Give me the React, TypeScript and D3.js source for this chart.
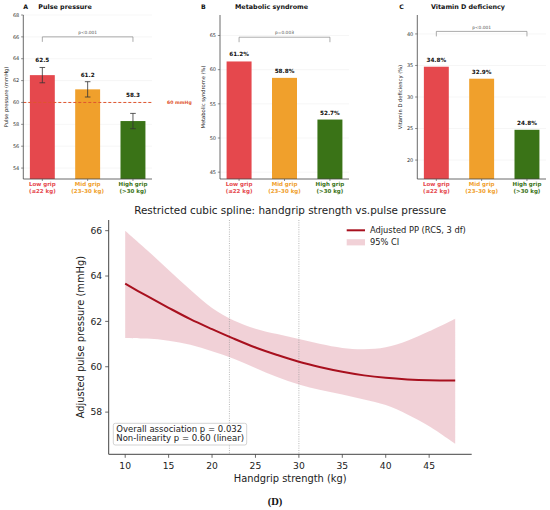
import React from "react";
import * as d3 from "d3";

// ---------- data ----------
const groupNames = ["Low grip", "Mid grip", "High grip"];
const groupRanges = ["(≤22 kg)", "(23–30 kg)", "(>30 kg)"];
const pulsePressure = [62.5, 61.2, 58.3];
const pulsePressureErr = [0.7, 0.7, 0.7];
const metabolicSyndrome = [61.2, 58.8, 52.7];
const vitaminDDeficiency = [34.8, 32.9, 24.8];
const pulseTicks = [54, 56, 58, 60, 62, 64, 66, 68];
const metTicks = [45, 50, 55, 60, 65];
const vitTicks = [20, 25, 30, 35, 40];
const pLabels = ["p<0.001", "p=0.003", "p<0.001"];
const bracketLevels = [66, 64.75, 40.4];
const ppReference = 60;

const gripStrength = [10, 12.5, 15, 17.5, 20, 22.5, 25, 27.5, 30, 32.5, 35, 37.5, 40, 42.5, 45, 48];
const ppAdjusted = [63.66, 63.12, 62.6, 62.1, 61.66, 61.24, 60.85, 60.52, 60.22, 59.98, 59.78, 59.62, 59.51, 59.44, 59.4, 59.39];
const ciUpper = [66.0, 65.15, 64.27, 63.39, 62.59, 62.04, 61.68, 61.44, 61.22, 61.0, 60.83, 60.77, 60.86, 61.15, 61.56, 62.12];
const ciLower = [61.27, 61.24, 61.15, 60.97, 60.68, 60.35, 59.95, 59.55, 59.22, 58.97, 58.78, 58.56, 58.31, 57.9, 57.38, 56.61];
const knots = [22, 30];
const splineXTicks = [10, 15, 20, 25, 30, 35, 40, 45];
const splineYTicks = [58, 60, 62, 64, 66];

// ---------- style ----------
const FONT = "DejaVu Sans, Liberation Sans, sans-serif";
const barColors = ["#e5484d", "#f0a02c", "#3a7317"];
const refColor = "#e0552e";
const lineColor = "#a8101e";
const spineColor = "#444";

type PanelProps = {
  left: number;
  right: number;
  domain: [number, number];
  ticks: number[];
  values: number[];
  errors?: number[];
  fmt: (v: number) => string;
  ylabel: string;
  letter: string;
  title: string;
  letterX: number;
  titleX: number;
  ylabelX: number;
  pLabel: string;
  bracket: number;
  ref?: number;
};

function BarPanel(p: PanelProps) {
  const top = 15;
  const bottom = 179;
  const y = d3.scaleLinear().domain(p.domain).range([bottom, top]);
  const x = d3.scaleLinear().domain([-0.42, 2.42]).range([p.left, p.right]);
  const bw = 0.55;
  const labelValue = (v: number, i: number) => {
    const t = p.errors ? v + p.errors[i] : v;
    if (p.ref !== undefined && p.errors) {
      const base = Math.max(t, p.ref);
      return y(base) - 7;
    }
    return y(t) - 7;
  };
  const by = y(p.bracket);
  return (
    <g fontFamily={FONT}>
      {p.ticks.map((t) => (
        <line key={"g" + t} x1={p.left} x2={p.right} y1={y(t)} y2={y(t)} stroke="#ececec" strokeWidth={0.5} />
      ))}
      {p.values.map((v, i) => (
        <rect
          key={"b" + i}
          x={x(i - bw / 2)}
          width={x(i + bw / 2) - x(i - bw / 2)}
          y={y(v)}
          height={bottom - y(v)}
          fill={barColors[i]}
        />
      ))}
      {p.errors &&
        p.values.map((v, i) => (
          <g key={"e" + i} stroke="#333" strokeWidth={0.8}>
            <line x1={x(i)} x2={x(i)} y1={y(v + p.errors![i])} y2={y(v - p.errors![i])} />
            <line x1={x(i) - 2.8} x2={x(i) + 2.8} y1={y(v + p.errors![i])} y2={y(v + p.errors![i])} />
            <line x1={x(i) - 2.8} x2={x(i) + 2.8} y1={y(v - p.errors![i])} y2={y(v - p.errors![i])} />
          </g>
        ))}
      {p.ref !== undefined && (
        <g>
          <line x1={p.left} x2={p.right} y1={y(p.ref)} y2={y(p.ref)} stroke={refColor} strokeWidth={1} strokeDasharray="3,2" />
          <text x={p.right + 15} y={y(p.ref)} dy="0.35em" fontSize={4.6} fontWeight="bold" fill={refColor}>
            {p.ref} mmHg
          </text>
        </g>
      )}
      {p.values.map((v, i) => (
        <text key={"v" + i} x={x(i)} y={labelValue(v, i)} dy="0.35em" textAnchor="middle" fontSize={5.7} fontWeight="bold" fill="#111">
          {p.fmt(v)}
        </text>
      ))}
      <path
        d={`M${x(0)},${by + 5}V${by}H${x(2)}V${by + 5}`}
        fill="none"
        stroke="#888"
        strokeWidth={0.7}
      />
      <text x={(x(0) + x(2)) / 2} y={by - 4.4} dy="0.35em" textAnchor="middle" fontSize={4.4} fill="#555">
        {p.pLabel}
      </text>
      <line x1={p.left} x2={p.left} y1={top} y2={bottom} stroke={spineColor} strokeWidth={0.8} />
      <line x1={p.left} x2={p.right} y1={bottom} y2={bottom} stroke={spineColor} strokeWidth={0.8} />
      {p.ticks.map((t) => (
        <g key={"t" + t}>
          <line x1={p.left - 2.2} x2={p.left} y1={y(t)} y2={y(t)} stroke={spineColor} strokeWidth={0.6} />
          <text x={p.left - 4} y={y(t)} dy="0.35em" textAnchor="end" fontSize={5} fill="#333">
            {t}
          </text>
        </g>
      ))}
      {groupNames.map((g, i) => (
        <g key={"c" + i}>
          <line x1={x(i)} x2={x(i)} y1={bottom} y2={bottom + 2} stroke={spineColor} strokeWidth={0.6} />
          <text x={x(i)} y={184.2} dy="0.35em" textAnchor="middle" fontSize={5.5} fontWeight="bold" fill={barColors[i]}>
            {g}
          </text>
          <text x={x(i)} y={190.9} dy="0.35em" textAnchor="middle" fontSize={5.5} fontWeight="bold" fill={barColors[i]}>
            {groupRanges[i]}
          </text>
        </g>
      ))}
      <text
        transform={`translate(${p.ylabelX},${(top + bottom) / 2}) rotate(-90)`}
        textAnchor="middle"
        dy="0.35em"
        fontSize={5.2}
        fill="#222"
      >
        {p.ylabel}
      </text>
      <text x={p.letterX} y={6.4} dy="0.35em" fontSize={6.2} fontWeight="bold" fill="#111">
        {p.letter}
      </text>
      <text x={p.titleX} y={6.4} dy="0.35em" fontSize={6.4} fontWeight="bold" fill="#111">
        {p.title}
      </text>
    </g>
  );
}

function SplinePanel() {
  const left = 108.7, right = 471.7, top = 220, bottom = 454.3;
  const x = d3.scaleLinear().domain([8.1, 49.9]).range([left, right]);
  const y = d3.scaleLinear().domain([56.14, 66.47]).range([bottom, top]);
  const idx = gripStrength.map((_, i) => i);
  const area = d3
    .area<number>()
    .x((i) => x(gripStrength[i]))
    .y0((i) => y(ciLower[i]))
    .y1((i) => y(ciUpper[i]))
    .curve(d3.curveCatmullRom);
  const line = d3
    .line<number>()
    .x((i) => x(gripStrength[i]))
    .y((i) => y(ppAdjusted[i]))
    .curve(d3.curveCatmullRom);
  const cx = (left + right) / 2;
  return (
    <g fontFamily={FONT}>
      <text x={cx} y={210.3} dy="0.35em" textAnchor="middle" fontSize={10.4} fill="#222">
        Restricted cubic spline: handgrip strength vs.pulse pressure
      </text>
      <path d={area(idx) || ""} fill="#e7b3bd" fillOpacity={0.6} stroke="none" />
      {knots.map((k) => (
        <line key={k} x1={x(k)} x2={x(k)} y1={top} y2={bottom} stroke="#999" strokeWidth={0.7} strokeDasharray="1,1.3" />
      ))}
      <path d={line(idx) || ""} fill="none" stroke={lineColor} strokeWidth={2} />
      <line x1={left} x2={left} y1={top} y2={bottom} stroke={spineColor} strokeWidth={1} />
      <line x1={left} x2={right} y1={bottom} y2={bottom} stroke={spineColor} strokeWidth={1} />
      {splineXTicks.map((t) => (
        <g key={"x" + t}>
          <line x1={x(t)} x2={x(t)} y1={bottom} y2={bottom + 3.5} stroke={spineColor} strokeWidth={0.8} />
          <text x={x(t)} y={465.8} dy="0.35em" textAnchor="middle" fontSize={9.2} fill="#222">
            {t}
          </text>
        </g>
      ))}
      {splineYTicks.map((t) => (
        <g key={"y" + t}>
          <line x1={left - 3.5} x2={left} y1={y(t)} y2={y(t)} stroke={spineColor} strokeWidth={0.8} />
          <text x={left - 6.5} y={y(t)} dy="0.35em" textAnchor="end" fontSize={9.2} fill="#222">
            {t}
          </text>
        </g>
      ))}
      <text x={cx} y={478.5} dy="0.35em" textAnchor="middle" fontSize={9.9} fill="#222">
        Handgrip strength (kg)
      </text>
      <text transform={`translate(81,${(top + bottom) / 2}) rotate(-90)`} dy="0.35em" textAnchor="middle" fontSize={9.9} fill="#222">
        Adjusted pulse pressure (mmHg)
      </text>
      <line x1={346.7} x2={365} y1={230.3} y2={230.3} stroke={lineColor} strokeWidth={2} />
      <text x={370} y={230.3} dy="0.35em" fontSize={8.3} fill="#222">
        Adjusted PP (RCS, 3 df)
      </text>
      <rect x={346.7} y={239.2} width={18.3} height={6.2} fill="#e7b3bd" fillOpacity={0.6} />
      <text x={370} y={242.3} dy="0.35em" fontSize={8.3} fill="#222">
        95% CI
      </text>
      <rect x={113.3} y={423.3} width={133.4} height={21.7} rx={2} fill="#fff" fillOpacity={0.85} stroke="#c8c8c8" strokeWidth={0.8} />
      <text x={116.3} y={428.6} dy="0.35em" fontSize={8.5} fill="#222">
        Overall association p = 0.032
      </text>
      <text x={116.3} y={438.4} dy="0.35em" fontSize={8.5} fill="#222">
        Non-linearity p = 0.60 (linear)
      </text>
    </g>
  );
}

export default function App() {
  return (
    <div style={{ position: "absolute", left: 0, top: 0 }}>
      <svg width={550} height={510} viewBox="0 0 550 510" style={{ display: "block", background: "#fff" }}>
        <rect width={550} height={510} fill="#fff" />
        <BarPanel
          left={23.3}
          right={152}
          domain={[53, 68]}
          ticks={pulseTicks}
          values={pulsePressure}
          errors={pulsePressureErr}
          fmt={(v) => v.toFixed(1)}
          ylabel="Pulse pressure (mmHg)"
          letter="A"
          title="Pulse pressure"
          letterX={23.3}
          titleX={38.3}
          ylabelX={6}
          pLabel={pLabels[0]}
          bracket={bracketLevels[0]}
          ref={ppReference}
        />
        <BarPanel
          left={220}
          right={349}
          domain={[44, 68]}
          ticks={metTicks}
          values={metabolicSyndrome}
          fmt={(v) => v.toFixed(1) + "%"}
          ylabel="Metabolic syndrome (%)"
          letter="B"
          title="Metabolic syndrome"
          letterX={201}
          titleX={235}
          ylabelX={203.3}
          pLabel={pLabels[1]}
          bracket={bracketLevels[1]}
        />
        <BarPanel
          left={417.3}
          right={546}
          domain={[17, 43]}
          ticks={vitTicks}
          values={vitaminDDeficiency}
          fmt={(v) => v.toFixed(1) + "%"}
          ylabel="Vitamin D deficiency (%)"
          letter="C"
          title="Vitamin D deficiency"
          letterX={399.3}
          titleX={431}
          ylabelX={400}
          pLabel={pLabels[2]}
          bracket={bracketLevels[2]}
        />
        <SplinePanel />
        <text x={275} y={501.5} dy="0.35em" textAnchor="middle" fontSize={10.5} fontWeight="bold" fontFamily="Liberation Serif, Times New Roman, serif" fill="#111">
          (D)
        </text>
      </svg>
    </div>
  );
}
